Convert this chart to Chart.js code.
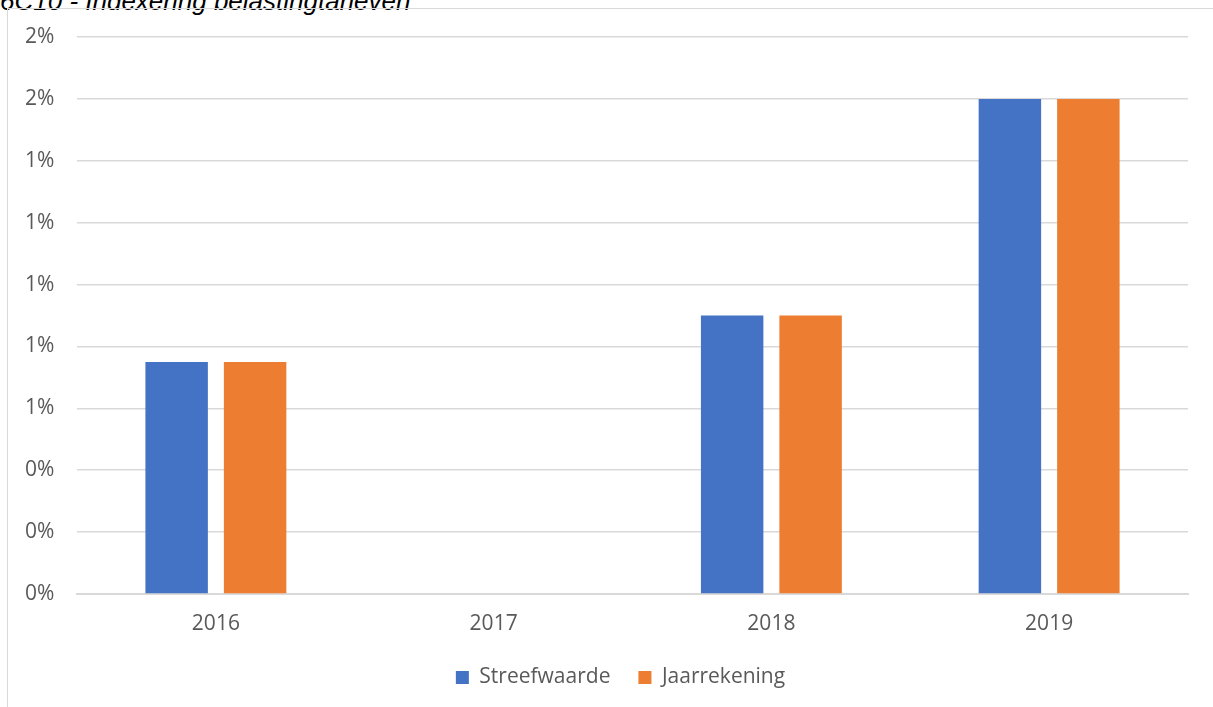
<!DOCTYPE html>
<html>
<head>
<meta charset="utf-8">
<script src="https://cdn.jsdelivr.net/npm/chart.js@4"></script>
<style>
  html, body { margin: 0; padding: 0; background: #fff; overflow: hidden; }
  body { width: 1213px; height: 707px; position: relative; }
  #title {
    position: absolute; left: 0; top: -12px;
    font: italic 26px "Liberation Sans", Arial, sans-serif;
    line-height: 26px; color: #000; white-space: nowrap;
  }
  #box {
    position: absolute; left: 7px; top: 8px; width: 1220px; height: 720px;
    border: 1px solid #d9d9d9; box-sizing: border-box;
  }
  #wrap { position: absolute; left: 8px; top: 9px; width: 1205px; height: 698px; }
</style>
</head>
<body>
<div id="title">6C10 - Indexering belastingtarieven</div>
<div id="box"></div>
<div id="wrap"><canvas id="chart"></canvas></div>
<script>
  const years = ['2016', '2017', '2018', '2019'];
  const streefwaarde = [0.75, null, 0.9, 1.6];
  const jaarrekening = [0.75, null, 0.9, 1.6];

  const textColor = '#595959';
  const gridColor = '#d9d9d9';
  const font = { family: '"Open Sans", sans-serif', size: 21 };

  Chart.defaults.font = font;
  Chart.defaults.color = textColor;

  // the legend in the original is centred on the whole box, not the plot
  const shiftLegend = {
    id: 'shiftLegend',
    afterLayout(chart) {
      chart.legend.left += 14;
      chart.legend.right += 14;
    }
  };

  new Chart(document.getElementById('chart'), {
    type: 'bar',
    data: {
      labels: years,
      datasets: [
        { label: 'Streefwaarde', data: streefwaarde, backgroundColor: '#4472c4' },
        { label: 'Jaarrekening', data: jaarrekening, backgroundColor: '#ed7d31' }
      ]
    },
    plugins: [shiftLegend],
    options: {
      responsive: true,
      maintainAspectRatio: false,
      animation: false,
      categoryPercentage: 0.565,
      barPercentage: 0.796,
      layout: { padding: { top: 28, right: 25, left: 17, bottom: 9 } },
      scales: {
        x: {
          grid: { display: false, drawTicks: false },
          border: { color: gridColor, width: 2 },
          ticks: { padding: 17, color: textColor, font: font },
          afterFit: s => { s.height = 45; }
        },
        y: {
          min: 0,
          max: 1.8,
          grid: { color: gridColor, lineWidth: 1.5, drawTicks: false },
          border: { display: false },
          ticks: {
            stepSize: 0.2,
            padding: 0,
            crossAlign: 'far',
            color: textColor,
            font: font,
            callback: v => Math.round(v) + '%'
          },
          afterFit: s => { s.width = 52; }
        }
      },
      plugins: {
        legend: {
          position: 'bottom',
          labels: { boxWidth: 13, boxHeight: 13, padding: 28, color: textColor, font: font }
        },
        tooltip: { enabled: false }
      }
    }
  });
</script>
</body>
</html>
